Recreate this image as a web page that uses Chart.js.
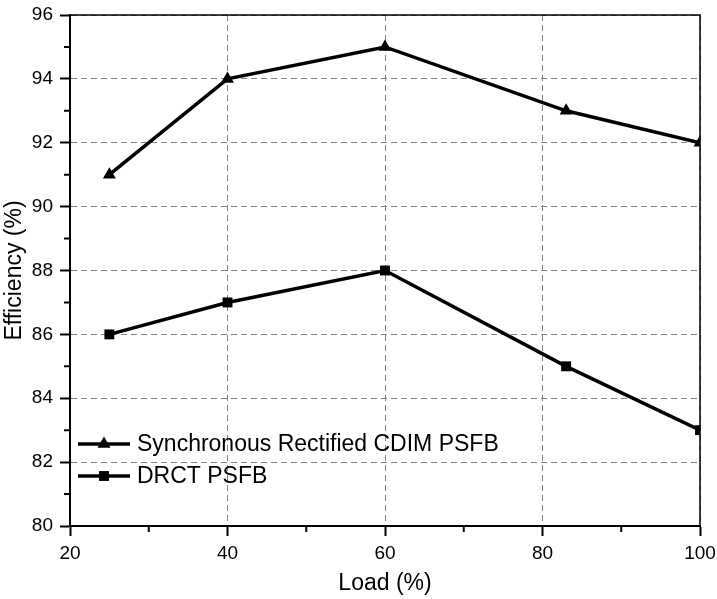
<!DOCTYPE html>
<html>
<head>
<meta charset="utf-8">
<script src="https://cdn.jsdelivr.net/npm/chart.js@4"></script>
<style>
  html, body { margin: 0; padding: 0; background: #fff; }
  #box { width: 717px; height: 599px; }
</style>
</head>
<body>
<div id="box"><canvas id="grafico"></canvas></div>
<script>
// dados
const cargas = [25, 40, 60, 83, 100];
const eficienciaCDIM = [91, 94, 95, 93, 92];
const eficienciaDRCT = [86, 87, 88, 85, 83];
const nomesSeries = ["Synchronous Rectified CDIM PSFB", "DRCT PSFB"];
const ticksMenoresX = [30, 50, 70, 90];
const ticksMenoresY = [81, 83, 85, 87, 89, 91, 93, 95];

const fonte = "'Liberation Sans', Arial, sans-serif";

function pontos(ys) {
    return cargas.map((x, i) => ({ x: x, y: ys[i] }));
}

// tira o padding automatico dos rotulos, quem manda e o layout.padding
function semPadding(scale) {
    scale.paddingTop = 0;
    scale.paddingBottom = 0;
    scale.paddingLeft = 0;
    scale.paddingRight = 0;
}

// moldura de cima/direita + ticks menores
const molduraPlugin = {
    id: 'moldura',
    afterDraw(chart) {
        const { ctx, chartArea: a, scales } = chart;
        ctx.save();
        ctx.strokeStyle = '#000';
        ctx.lineWidth = 1.5;
        ctx.beginPath();
        ctx.moveTo(a.left, a.top);
        ctx.lineTo(a.right, a.top);
        ctx.lineTo(a.right, a.bottom);
        ctx.stroke();

        ctx.lineWidth = 2;
        ctx.beginPath();
        for (const v of ticksMenoresX) {
            const px = scales.x.getPixelForValue(v);
            ctx.moveTo(px, a.bottom);
            ctx.lineTo(px, a.bottom + 6);
        }
        for (const v of ticksMenoresY) {
            const py = scales.y.getPixelForValue(v);
            ctx.moveTo(a.left - 6, py);
            ctx.lineTo(a.left, py);
        }
        ctx.stroke();
        ctx.restore();
    }
};

// legenda dentro da area do grafico, canto inferior esquerdo
const legendaPlugin = {
    id: 'legendaInterna',
    afterDatasetsDraw(chart) {
        const { ctx, chartArea: a } = chart;
        ctx.save();
        ctx.font = '23px ' + fonte;
        ctx.textBaseline = 'middle';
        ctx.fillStyle = '#000';
        chart.data.datasets.forEach((ds, i) => {
            const y = a.bottom - 82 + i * 32;
            const x0 = a.left + 8;
            const x1 = a.left + 60;
            ctx.strokeStyle = ds.borderColor;
            ctx.lineWidth = ds.borderWidth;
            ctx.beginPath();
            ctx.moveTo(x0, y);
            ctx.lineTo(x1, y);
            ctx.stroke();
            Chart.helpers.drawPoint(ctx, {
                pointStyle: ds.pointStyle,
                radius: ds.pointRadius,
                borderWidth: 0,
                rotation: 0
            }, (x0 + x1) / 2, y);
            ctx.fillStyle = '#000';
            ctx.fillText(ds.label, a.left + 67, y + 1);
        });
        ctx.restore();
    }
};

const ctx = document.getElementById('grafico').getContext('2d');

new Chart(ctx, {
    type: 'line',
    data: {
        datasets: [
            {
                label: nomesSeries[0],
                data: pontos(eficienciaCDIM),
                borderColor: '#000',
                backgroundColor: '#000',
                borderWidth: 3.5,
                pointStyle: 'triangle',
                pointRadius: 7.5,
                pointBorderWidth: 0,
                clip: 0
            },
            {
                label: nomesSeries[1],
                data: pontos(eficienciaDRCT),
                borderColor: '#000',
                backgroundColor: '#000',
                borderWidth: 3.5,
                pointStyle: 'rect',
                pointRadius: 7,
                pointBorderWidth: 0,
                clip: 0
            }
        ]
    },
    options: {
        responsive: true,
        maintainAspectRatio: false,
        animation: false,
        layout: { padding: { top: 15, right: 17, left: 0, bottom: 0 } },
        plugins: {
            legend: { display: false },
            tooltip: { enabled: false }
        },
        scales: {
            x: {
                type: 'linear',
                min: 20,
                max: 100,
                afterFit(scale) { scale.height = 73; semPadding(scale); },
                ticks: {
                    stepSize: 20,
                    color: '#000',
                    padding: 6,
                    font: { family: fonte, size: 19 },
                    maxRotation: 0
                },
                grid: {
                    color: '#808080',
                    lineWidth: 1,
                    tickColor: '#000',
                    tickLength: 10,
                    tickWidth: 2
                },
                border: { color: '#000', width: 2, dash: [6, 4] },
                title: {
                    display: true,
                    text: 'Load (%)',
                    color: '#000',
                    font: { family: fonte, size: 23 },
                    padding: { top: 0, bottom: 2 }
                }
            },
            y: {
                min: 80,
                max: 96,
                afterFit(scale) { scale.width = 70; semPadding(scale); },
                ticks: {
                    stepSize: 2,
                    color: '#000',
                    padding: 7,
                    font: { family: fonte, size: 19 }
                },
                grid: {
                    color: '#808080',
                    lineWidth: 1,
                    tickColor: '#000',
                    tickLength: 10,
                    tickWidth: 2
                },
                border: { color: '#000', width: 2, dash: [6, 4] },
                title: {
                    display: true,
                    text: 'Efficiency (%)',
                    color: '#000',
                    font: { family: fonte, size: 23 },
                    padding: { top: 1, bottom: 0 }
                }
            }
        }
    },
    plugins: [molduraPlugin, legendaPlugin]
});
</script>
</body>
</html>
